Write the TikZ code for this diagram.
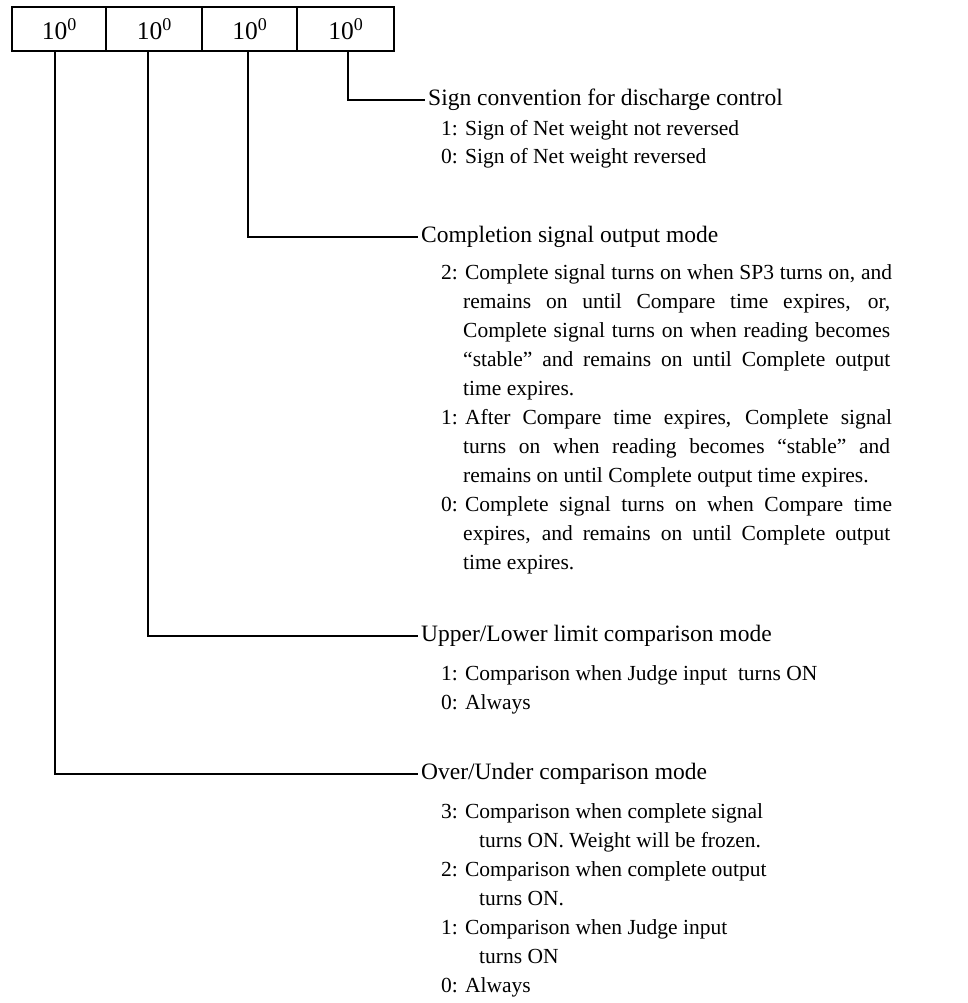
\documentclass[tikz,border=0pt]{standalone}
\usepackage{fontspec}
\setmainfont{Liberation Serif}
\newcommand\headfont{\fontsize{23.5}{27}\selectfont}
\newcommand\itemfont{\fontsize{21.5}{25}\selectfont}
\newcommand\boxfont{\fontsize{25.5}{28}\selectfont}
\newcommand\jl[1]{\makebox[427pt][s]{#1}}
\newcommand\tenzero{10\raisebox{9pt}{\fontsize{18}{18}\selectfont 0}}
\begin{document}
\begin{tikzpicture}[x=1pt,y=-1pt,
  digitbox/.style={draw,line width=1.6pt,minimum height=44pt,inner sep=0pt,outer sep=0pt,font=\boxfont},
  head/.style={anchor=west,inner xsep=3pt,inner ysep=0pt,font=\headfont},
  txt/.style={anchor=base west,inner sep=0pt,font=\itemfont},
  conn/.style={line width=1.6pt}]
\useasboundingbox (0,0) rectangle (968,1003);
% boxes
\node[digitbox,minimum width=94pt] (b1) at (59,29) {\tenzero};
\node[digitbox,minimum width=96pt] (b2) at (154,29) {\tenzero};
\node[digitbox,minimum width=95pt] (b3) at (249.5,29) {\tenzero};
\node[digitbox,minimum width=97pt] (b4) at (345.5,29) {\tenzero};
% headings
\node[head] (h1) at (425,100) {Sign convention for discharge control};
\node[head] (h2) at (418,237) {Completion signal output mode};
\node[head] (h3) at (418,636) {Upper/Lower limit comparison mode};
\node[head] (h4) at (418,774) {Over/Under comparison mode};
% connectors
\draw[conn] ([xshift=2.5pt]b4.south) |- (h1.west);
\draw[conn] ([xshift=-1.5pt]b3.south) |- (h2.west);
\draw[conn] ([xshift=-6pt]b2.south) |- (h3.west);
\draw[conn] ([xshift=-4pt]b1.south) |- (h4.west);
% sign convention items
\node[txt] (s1) at (441,136) {1: Sign of Net weight not reversed};
\node[txt] (s2) at (441,164) {0: Sign of Net weight reversed};
% completion items
\node[txt] (c1) at (441,279) {2: \jl{Complete signal turns on when SP3 turns on, and}};
\node[txt] (c2) at (463,308) {\jl{remains on until Compare time expires, or,}};
\node[txt] (c3) at (463,337) {\jl{Complete signal turns on when reading becomes}};
\node[txt] (c4) at (463,366) {\jl{“stable” and remains on until Complete output}};
\node[txt] (c5) at (463,395) {time expires.};
\node[txt] (c6) at (441,424) {1: \jl{After Compare time expires, Complete signal}};
\node[txt] (c7) at (463,453) {\jl{turns on when reading becomes “stable” and}};
\node[txt] (c8) at (463,482) {remains on until Complete output time expires.};
\node[txt] (c9) at (441,511) {0: \jl{Complete signal turns on when Compare time}};
\node[txt] (c10) at (463,540) {\jl{expires, and remains on until Complete output}};
\node[txt] (c11) at (463,569) {time expires.};
% upper/lower items
\node[txt] (u1) at (441,680) {1: Comparison when Judge input\ \ turns ON};
\node[txt] (u2) at (441,709) {0: Always};
% over/under items
\node[txt] (o1) at (441,818) {3: Comparison when complete signal};
\node[txt] (o2) at (479,847) {turns ON. Weight will be frozen.};
\node[txt] (o3) at (441,876) {2: Comparison when complete output};
\node[txt] (o4) at (479,905) {turns ON.};
\node[txt] (o5) at (441,934) {1: Comparison when Judge input};
\node[txt] (o6) at (479,963) {turns ON};
\node[txt] (o7) at (441,992) {0: Always};
\end{tikzpicture}
\end{document}
